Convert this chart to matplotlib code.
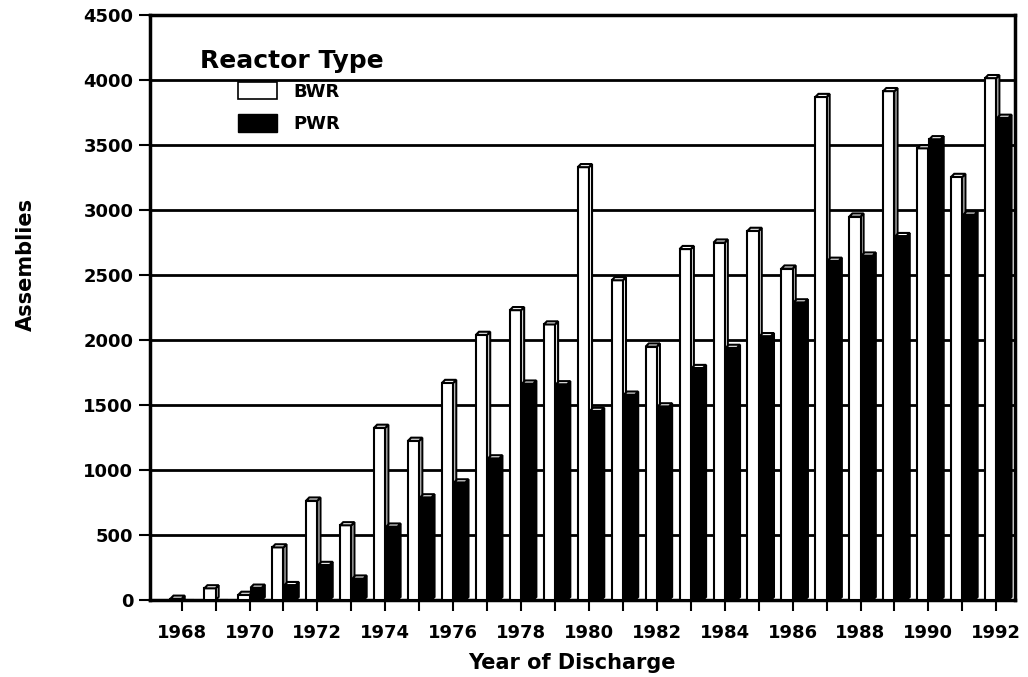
import numpy as np
import matplotlib.pyplot as plt
from matplotlib.patches import Polygon, Patch

years = np.arange(1968, 1993)
bwr = [10, 90, 40, 405, 765, 575, 1325, 1225, 1670, 2040, 2230, 2120, 3330, 2460,
       1950, 2700, 2750, 2840, 2550, 3870, 2950, 3915, 3475, 3255, 4015]
pwr = [0, 0, 95, 115, 270, 165, 565, 790, 905, 1090, 1665, 1660, 1455, 1580,
       1490, 1785, 1940, 2030, 2290, 2610, 2650, 2800, 3545, 2965, 3710]
year_labels = [str(y) if y % 2 == 0 else '' for y in years]

plt.rcParams['font.family'] = ['DejaVu Sans']
plt.rcParams['font.weight'] = 'bold'
plt.rcParams['axes.labelweight'] = 'bold'

fig = plt.figure(figsize=(10.28, 6.77), dpi=100)
ax = fig.add_axes([0.146, 0.1137, 0.841, 0.864])

w = 0.33
dx, dy = 0.09, 24  # depth of the fake 3d look

ax.set_xlim(1967.07, 1992.54)
ax.set_ylim(0, 4500)
ax.yaxis.grid(True, color='black', linewidth=2)
ax.set_axisbelow(True)


def bars3d(x, vals, face, side):
    bars = ax.bar(x, vals, width=w, color=face, edgecolor='black', linewidth=1.5, zorder=3)
    for b in bars:
        h = b.get_height()
        if h <= 0:
            continue
        x0 = b.get_x()
        x1 = x0 + b.get_width()
        top = Polygon([[x0, h], [x0 + dx, h + dy], [x1 + dx, h + dy], [x1, h]],
                      closed=True, facecolor='white', edgecolor='black', linewidth=1.5, zorder=3)
        sd = Polygon([[x1, 0], [x1 + dx, min(dy, h)], [x1 + dx, h + dy], [x1, h]],
                     closed=True, facecolor=side, edgecolor='black', linewidth=1.5, zorder=2.9)
        ax.add_patch(sd)
        ax.add_patch(top)


bars3d(years - w / 2, bwr, 'white', 'white')
bars3d(years + w / 2 + 0.03, pwr, 'black', 'black')

ax.set_xticks(years)
ax.set_xticklabels(year_labels)
ax.set_yticks(np.arange(0, 4501, 500))
ax.tick_params(axis='both', direction='out', length=8, width=1.5, labelsize=13)
ax.tick_params(axis='x', pad=9)
ax.tick_params(axis='y', pad=4)
for s in ax.spines.values():
    s.set_linewidth(2.5)

ax.set_xlabel('Year of Discharge', fontsize=15)
ax.xaxis.set_label_coords(0.488, -0.09)
ax.set_ylabel('Assemblies', fontsize=15)
ax.yaxis.set_label_coords(-0.132, 0.573)

fig.text(0.1946, 0.8996, 'Reactor Type', fontsize=18, va='baseline')
handles = [Patch(facecolor='white', edgecolor='black', linewidth=1.2, label='BWR'),
           Patch(facecolor='black', edgecolor='black', label='PWR')]
ax.legend(handles=handles, loc='upper left', bbox_to_anchor=(0.0913, 0.901), frameon=False,
          borderpad=0, fontsize=13, handlelength=2.15, handleheight=1.1,
          labelspacing=0.75, handletextpad=0.9)

fig.savefig('out.png', dpi=100)
